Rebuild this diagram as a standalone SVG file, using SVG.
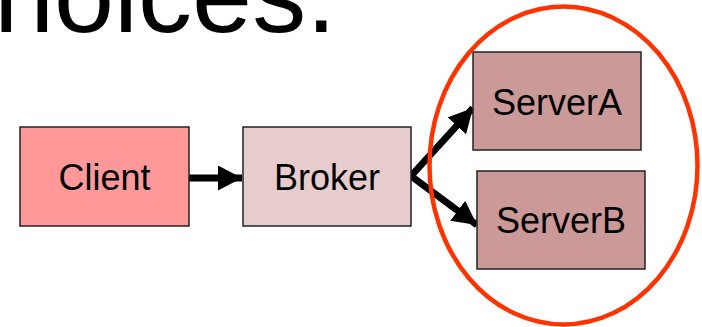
<svg xmlns="http://www.w3.org/2000/svg" width="702" height="327" viewBox="0 0 702 327">
  <defs>
    <marker id="arrow" markerUnits="userSpaceOnUse" markerWidth="28" markerHeight="28" refX="24" refY="12.5" orient="auto">
      <path d="M0,0 L24,12.5 L0,25 Z" fill="#000"/>
    </marker>
    <style>
      .box { stroke: #222; stroke-width: 1.5; }
      .label { font-family: "Liberation Sans", Arial, sans-serif; font-size: 36px; fill: #000; text-anchor: middle; }
      .title { font-family: "Liberation Sans", Arial, sans-serif; font-size: 108px; fill: #000; }
      .edge { stroke: #000; stroke-width: 7; fill: none; marker-end: url(#arrow); }
    </style>
  </defs>
  <rect width="702" height="327" fill="#fff"/>

  <text class="title" x="-84" y="32">Choices.</text>

  <g id="connectors">
    <line class="edge" x1="189" y1="178" x2="242" y2="178"/>
    <line class="edge" x1="411" y1="176" x2="473" y2="108"/>
    <line class="edge" x1="411" y1="176" x2="477" y2="225"/>
  </g>

  <g id="client">
    <rect class="box" x="20" y="127" width="169" height="99" fill="#FF9999"/>
    <text class="label" x="104.5" y="190">Client</text>
  </g>
  <g id="broker">
    <rect class="box" x="243" y="127" width="168" height="99" fill="#E6CCCC"/>
    <text class="label" x="327" y="190">Broker</text>
  </g>
  <g id="serverA">
    <rect class="box" x="473" y="52" width="168" height="98" fill="#CC9999"/>
    <text class="label" x="557" y="115">ServerA</text>
  </g>
  <g id="serverB">
    <rect class="box" x="477" y="171" width="168" height="98" fill="#CC9999"/>
    <text class="label" x="561" y="233">ServerB</text>
  </g>

  <g id="group-ring">
    <ellipse cx="563.5" cy="165.5" rx="134" ry="159" fill="none" stroke="#FF3300" stroke-width="4.5"/>
  </g>
</svg>
